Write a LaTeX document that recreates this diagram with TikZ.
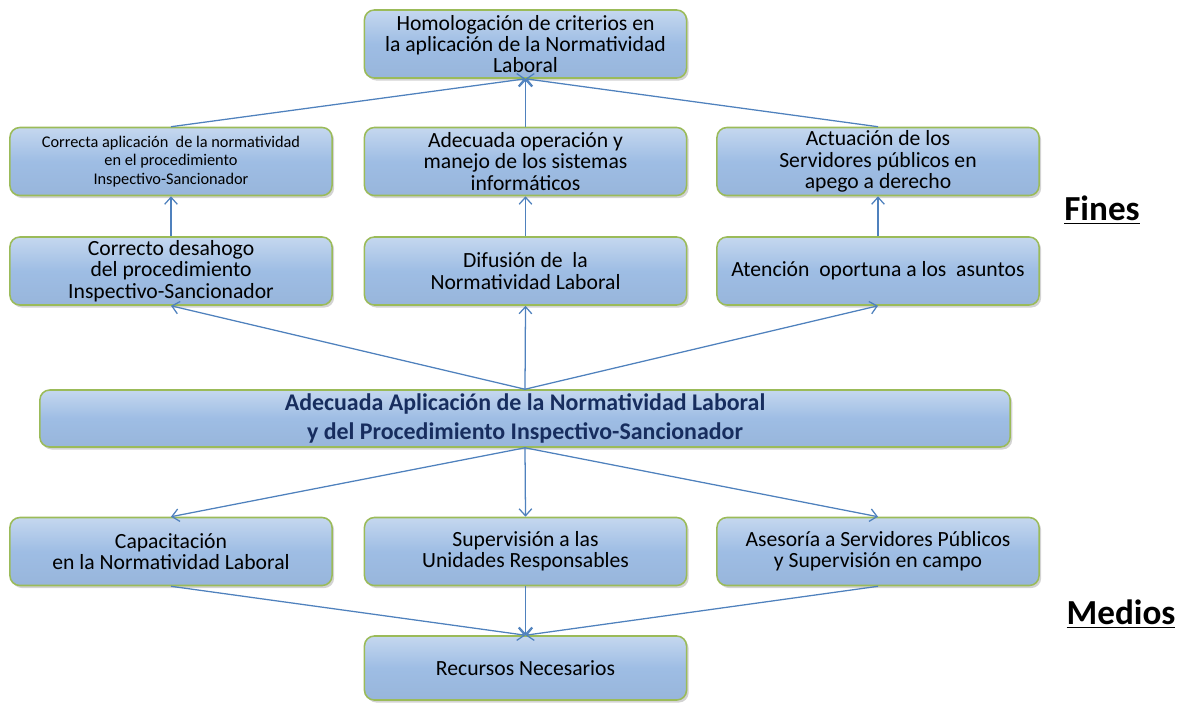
\documentclass[tikz,border=0pt]{standalone}
\usepackage{fontspec}
\setmainfont{Carlito}
\usetikzlibrary{shadows,arrows.meta}
\definecolor{boxblue}{RGB}{158,189,228}
\definecolor{boxgreen}{RGB}{155,187,89}
\definecolor{linkblue}{RGB}{79,129,189}
\definecolor{navytext}{RGB}{23,45,94}
\tikzset{
  goalbox/.style={rectangle, rounded corners=7pt, draw=boxgreen, line width=1.1pt,
    top color=boxblue!60!white, bottom color=boxblue!96!black, middle color=boxblue,
    drop shadow={opacity=0.35, shadow xshift=1.5pt, shadow yshift=-1.8pt},
    minimum width=8.05cm, minimum height=1.7cm, align=center, inner sep=2pt,
    font=\fontsize{15.4}{15.2}\selectfont},
  link/.style={draw=linkblue, line width=0.9pt, -{Straight Barb[length=5pt,width=9pt]}},
  sidelabel/.style={font=\fontsize{25}{28}\selectfont\bfseries, inner sep=0pt}
}
\begin{document}
\begin{tikzpicture}[x=0.025cm, y=-0.025cm]
	\useasboundingbox (0,0) rectangle (1181,705);
	% fines
	\node [goalbox] (homolog) at (525.5,44) {Homologación de criterios en\\la aplicación de la Normatividad\\Laboral};
	\node [goalbox, font=\fontsize{11.6}{13}\selectfont] (correcta) at (171,161.5) {Correcta aplicación\ \ de la normatividad\\en el procedimiento\\Inspectivo-Sancionador};
	\node [goalbox] (operacion) at (525.5,161.5) {Adecuada operación y\\manejo de los sistemas\\informáticos};
	\node [goalbox] (actuacion) at (878,161.5) {Actuación de los\\Servidores públicos en\\apego a derecho};
	\node [goalbox] (desahogo) at (171,271) {Correcto desahogo\\del procedimiento\\Inspectivo-Sancionador};
	\node [goalbox] (difusion) at (525.5,271) {Difusión de\ \ la\\Normatividad Laboral};
	\node [goalbox] (atencion) at (878,271) {Atención\ \ oportuna a los\ \ asuntos};
	% problema central
	\node [goalbox, minimum width=24.25cm, minimum height=1.425cm, text=navytext,
		font=\fontsize{17}{20}\selectfont\bfseries] (central) at (525,418.5)
		{Adecuada Aplicación de la Normatividad Laboral\\y del Procedimiento Inspectivo-Sancionador};
	% medios
	\node [goalbox] (capacit) at (171,551.5) {Capacitación\\en la Normatividad Laboral};
	\node [goalbox] (supervis) at (525.5,551.5) {Supervisión a las\\Unidades Responsables};
	\node [goalbox] (asesoria) at (878,551.5) {Asesoría a Servidores Públicos\\y Supervisión en campo};
	\node [goalbox, minimum height=1.6cm] (recursos) at (525.5,668) {Recursos Necesarios};
	% etiquetas
	\node [sidelabel] (fines) at (1102,210) {\underline{Fines}};
	\node [sidelabel] (medios) at (1121,614) {\underline{Medios}};
	% conectores
	\draw [link] (correcta.north) -- (homolog.south);
	\draw [link] (operacion.north) -- (homolog.south);
	\draw [link] (actuacion.north) -- (homolog.south);
	\draw [link] (desahogo.north) -- (correcta.south);
	\draw [link] (difusion.north) -- (operacion.south);
	\draw [link] (atencion.north) -- (actuacion.south);
	\draw [link] (central.north) -- (desahogo.south);
	\draw [link] (central.north) -- (difusion.south);
	\draw [link] (central.north) -- (atencion.south);
	\draw [link] (central.south) -- (capacit.north);
	\draw [link] (central.south) -- (supervis.north);
	\draw [link] (central.south) -- (asesoria.north);
	\draw [link] (capacit.south) -- (recursos.north);
	\draw [link] (supervis.south) -- (recursos.north);
	\draw [link] (asesoria.south) -- (recursos.north);
\end{tikzpicture}
\end{document}
